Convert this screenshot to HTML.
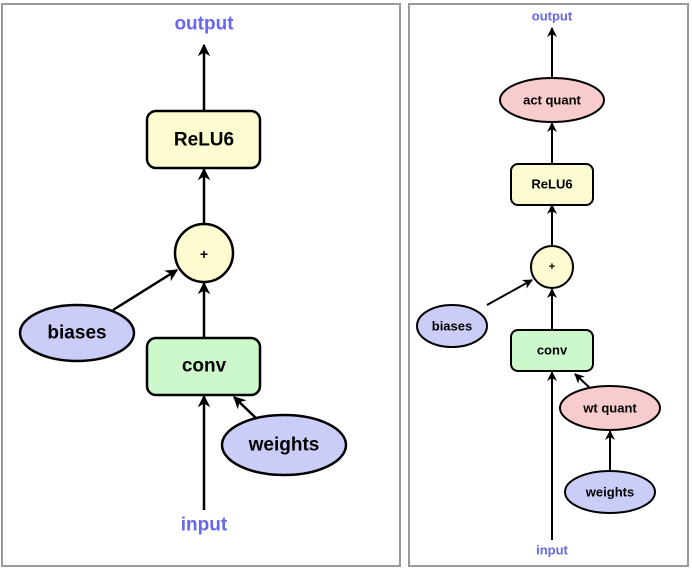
<!DOCTYPE html>
<html><head><style>body{margin:0;background:#fff}svg{display:block}text{font-family:"Liberation Sans",Arial,sans-serif;font-weight:bold;text-anchor:middle;dominant-baseline:central}</style></head><body>
<svg width="692" height="568" viewBox="0 0 692 568">
<defs><marker id="a" viewBox="0 0 10 10" refX="9" refY="5" markerWidth="5" markerHeight="5" orient="auto"><path d="M0,0L10,5L0,10L3,5Z" fill="#000"/></marker></defs>
<rect x="2" y="4" width="398" height="562" fill="#fff" stroke="#999" stroke-width="2"/>
<rect x="409" y="4" width="279" height="562" fill="#fff" stroke="#999" stroke-width="2"/>
<g stroke="#000" stroke-width="2.5" fill="none" marker-end="url(#a)">
<line x1="204" y1="111" x2="204" y2="45"/>
<line x1="204" y1="224" x2="204" y2="169"/>
<line x1="204" y1="338" x2="204" y2="283"/>
<line x1="113" y1="310" x2="177" y2="270"/>
<line x1="204" y1="510" x2="204" y2="396"/>
<line x1="258" y1="420" x2="234" y2="397"/>
</g>
<g stroke="#000" stroke-width="2" fill="none" marker-end="url(#a)">
<line x1="552" y1="78" x2="552" y2="28"/>
<line x1="552" y1="164" x2="552" y2="123"/>
<line x1="552" y1="246" x2="552" y2="205"/>
<line x1="552" y1="330" x2="552" y2="289"/>
<line x1="487" y1="305" x2="532" y2="280"/>
<line x1="552" y1="540" x2="552" y2="372"/>
<line x1="590" y1="388" x2="575" y2="374"/>
<line x1="610" y1="471" x2="610" y2="431"/>
</g>
<g stroke="#000" stroke-width="2.5">
<rect x="147" y="111" width="113" height="57" rx="9" fill="#fdfbd0"/>
<circle cx="204" cy="253" r="29" fill="#fdfbd0"/>
<ellipse cx="77" cy="333" rx="57" ry="28" fill="#ccccf8"/>
<rect x="147" y="338" width="113" height="57" rx="9" fill="#ccf8cc"/>
<ellipse cx="284" cy="445" rx="62" ry="30" fill="#ccccf8"/>
</g>
<g stroke="#000" stroke-width="2">
<ellipse cx="552" cy="100" rx="52" ry="22" fill="#f8cccc"/>
<rect x="511" y="164" width="82" height="41" rx="7" fill="#fdfbd0"/>
<circle cx="552" cy="267" r="21" fill="#fdfbd0"/>
<ellipse cx="452" cy="326" rx="35" ry="21" fill="#ccccf8"/>
<rect x="511" y="330" width="82" height="41" rx="7" fill="#ccf8cc"/>
<ellipse cx="610" cy="408" rx="50" ry="22" fill="#f8cccc"/>
<ellipse cx="610" cy="492" rx="45" ry="21" fill="#ccccf8"/>
</g>
<g font-size="19">
<text x="204" y="24" fill="#6666ee">output</text>
<text x="204" y="140">ReLU6</text>
<text x="204" y="254" font-size="14">+</text>
<text x="77" y="333">biases</text>
<text x="204" y="366">conv</text>
<text x="284" y="445">weights</text>
<text x="204" y="525" fill="#6666ee">input</text>
</g>
<g font-size="13">
<text x="552" y="16" fill="#6666ee">output</text>
<text x="552" y="100">act quant</text>
<text x="552" y="184">ReLU6</text>
<text x="552" y="267" font-size="11">+</text>
<text x="452" y="326">biases</text>
<text x="552" y="350">conv</text>
<text x="610" y="408">wt quant</text>
<text x="610" y="492">weights</text>
<text x="552" y="550" fill="#6666ee">input</text>
</g>
</svg>
</body></html>
